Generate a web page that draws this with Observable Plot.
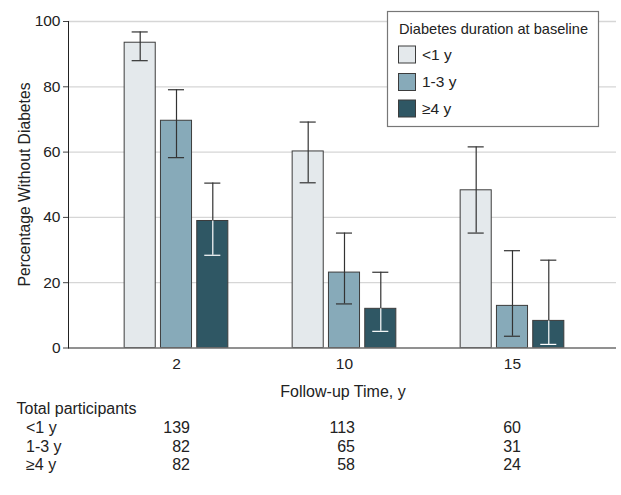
<!DOCTYPE html>
<html>
<head>
<meta charset="utf-8">
<script src="https://cdn.jsdelivr.net/npm/d3@7"></script>
<script src="https://cdn.jsdelivr.net/npm/@observablehq/plot@0.6"></script>
<style>
  html, body { margin: 0; padding: 0; background: #fff; }
  #wrap { position: relative; width: 621px; height: 495px; overflow: hidden; font-family: "Liberation Sans", Arial, sans-serif; color: #222; }
  #wrap > svg { position: absolute; left: 0; top: 0; }
</style>
</head>
<body>
<div id="wrap"></div>
<script>
// ---- data ----
const times = ["2", "10", "15"];                 // follow-up time, y
const durations = ["<1 y", "1-3 y", "≥4 y"];     // diabetes duration at baseline
const colors = ["#e4e9ec", "#87aab9", "#2f5764"];
// percentage without diabetes, per duration (rows) and time (columns)
const pctNoDiabetes = [
  [93.5, 60.2, 48.3],
  [69.6, 23.1, 12.9],
  [38.9, 12.0, 8.3]
];
const ciLower = [
  [88.0, 50.6, 35.2],
  [58.3, 13.5, 3.6],
  [28.4, 5.1, 1.1]
];
const ciUpper = [
  [96.8, 69.2, 61.6],
  [79.1, 35.2, 29.8],
  [50.5, 23.2, 26.9]
];
const participants = [
  [139, 113, 60],
  [82, 65, 31],
  [82, 58, 24]
];
const yTicks = [0, 20, 40, 60, 80, 100];
const legendTitle = "Diabetes duration at baseline";
const xLabel = "Follow-up Time, y";
const yLabel = "Percentage Without Diabetes";
const tableTitle = "Total participants";

// ---- table for the library ----
const rows = [];
durations.forEach((dur, k) => times.forEach((t, i) => rows.push({
  time: t, duration: dur, k, pct: pctNoDiabetes[k][i], lo: ciLower[k][i], hi: ciUpper[k][i]
})));

const FONT = "\"Liberation Sans\", Arial, sans-serif";
const barStep = 36.3; // pixel spacing between bars within a group

const marks = [
  Plot.gridY(yTicks, {stroke: "#d6d6d6", strokeOpacity: 1, strokeWidth: 1.3})
];
durations.forEach((dur, k) => {
  const sub = rows.filter(d => d.k === k);
  const dx = (k - 1) * barStep;
  const dark = k === 2;
  marks.push(Plot.barY(sub, {x: "time", y: "pct", fill: colors[k], stroke: "#3c3c3c", strokeWidth: 1, dx}));
  marks.push(Plot.ruleX(sub, {x: "time", y1: dark ? "pct" : "lo", y2: "hi", stroke: "#333", strokeWidth: 1.2, dx}));
  marks.push(Plot.tickY(sub, {x: "time", y: "hi", stroke: "#333", strokeWidth: 1.2, insetLeft: 7.5, insetRight: 7.5, dx}));
  marks.push(Plot.tickY(sub, {x: "time", y: "lo", stroke: dark ? "#fff" : "#333", strokeWidth: 1.2, insetLeft: 7.5, insetRight: 7.5, dx}));
  if (dark) marks.push(Plot.ruleX(sub, {x: "time", y1: "lo", y2: "pct", stroke: "#fff", strokeWidth: 1.2, dx}));
});
marks.push(
  Plot.ruleY([0], {stroke: "#777", strokeWidth: 1.6}),
  Plot.frame({anchor: "left", stroke: "#222", strokeWidth: 1}),
  Plot.axisY(yTicks, {tickSize: 5, tickPadding: 3, stroke: "#444", fontSize: 15.5, label: null}),
  Plot.axisX({tickSize: 0, tickPadding: 10, fontSize: 15.5, label: null})
);

const chart = Plot.plot({
  width: 621,
  height: 400,
  marginLeft: 68,
  marginRight: 5,
  marginTop: 21,
  marginBottom: 52.5,
  style: {fontFamily: FONT, fontSize: "15.5px", color: "#222", background: "transparent"},
  x: {domain: times, paddingInner: 0.815, paddingOuter: 0.5385, align: 0.511, round: false, axis: null},
  y: {domain: [0, 100], axis: null},
  marks
});
document.getElementById("wrap").appendChild(chart);

// ---- axis titles, legend and participants table ----
const ov = d3.select("#wrap").append("svg")
  .attr("width", 621).attr("height", 495)
  .style("font-family", FONT).style("fill", "#222");

// y-axis title
ov.append("text").attr("transform", "translate(30,184.5) rotate(-90)").attr("text-anchor", "middle")
  .style("font-size", "15.7px").text(yLabel);

// x-axis title
ov.append("text").attr("x", 343).attr("y", 397.3).attr("text-anchor", "middle")
  .style("font-size", "16px").text(xLabel);

// legend
const lg = ov.append("g");
lg.append("rect").attr("x", 387.5).attr("y", 11.5).attr("width", 211).attr("height", 115)
  .attr("fill", "#fff").attr("stroke", "#777").attr("stroke-width", 1.2);
lg.append("text").attr("x", 399).attr("y", 33.5).style("font-size", "14.6px").text(legendTitle);
const swY = [46, 73.5, 100];
durations.forEach((dur, k) => {
  lg.append("rect").attr("x", 398.5).attr("y", swY[k]).attr("width", 17).attr("height", 17)
    .attr("fill", colors[k]).attr("stroke", "#3c3c3c").attr("stroke-width", 1);
  lg.append("text").attr("x", 422).attr("y", swY[k] + 13.5).style("font-size", "15.5px").text(dur);
});

// participants table
const tb = ov.append("g").style("font-size", "16px");
tb.append("text").attr("x", 16.5).attr("y", 414).text(tableTitle);
const rowY = [433, 451.5, 470];
const colX = [190, 355, 521];
durations.forEach((dur, k) => {
  tb.append("text").attr("x", 26).attr("y", rowY[k]).text(dur);
  times.forEach((t, i) => {
    tb.append("text").attr("x", colX[i]).attr("y", rowY[k]).attr("text-anchor", "end").text(participants[k][i]);
  });
});
</script>
</body>
</html>
